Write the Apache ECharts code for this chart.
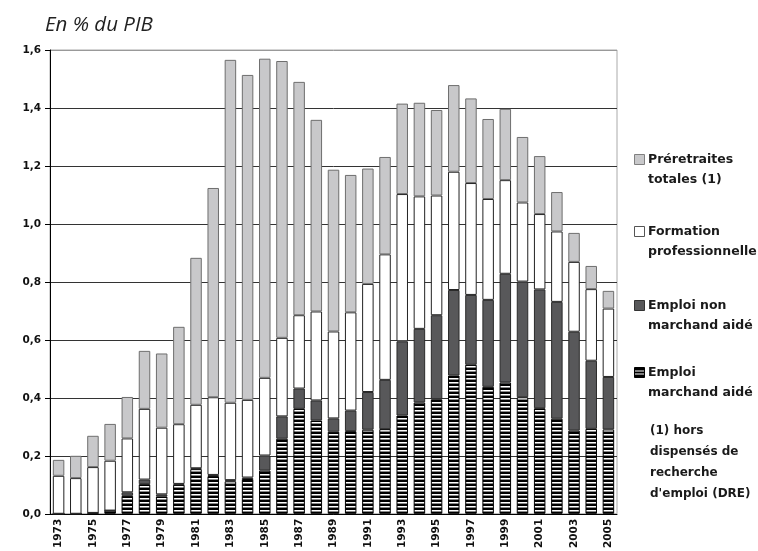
<!DOCTYPE html>
<html>
<head>
<meta charset="utf-8">
<script src="https://cdn.jsdelivr.net/npm/echarts@6/dist/echarts.min.js"></script>
<style>html,body{margin:0;padding:0;background:#fff}#c{width:758px;height:551px}</style>
</head>
<body>
<div id="c"></div>
<script>
var years = ['1973','1974','1975','1976','1977','1978','1979','1980','1981','1982','1983','1984','1985','1986','1987','1988','1989','1990','1991','1992','1993','1994','1995','1996','1997','1998','1999','2000','2001','2002','2003','2004','2005'];
var emploiMarchand = [0,0,0.003,0.011,0.062,0.102,0.06,0.1,0.154,0.13,0.112,0.12,0.149,0.259,0.362,0.322,0.283,0.285,0.29,0.292,0.339,0.384,0.395,0.477,0.514,0.438,0.453,0.402,0.364,0.328,0.287,0.293,0.291];
var emploiNonMarchand = [0,0,0,0,0.012,0.016,0.007,0.003,0.003,0.004,0.004,0.005,0.052,0.077,0.07,0.069,0.046,0.071,0.13,0.17,0.256,0.254,0.29,0.295,0.241,0.3,0.375,0.399,0.41,0.403,0.341,0.235,0.181];
var formation = [0.131,0.123,0.158,0.172,0.186,0.244,0.23,0.206,0.219,0.268,0.267,0.268,0.268,0.271,0.253,0.307,0.3,0.339,0.373,0.433,0.508,0.457,0.413,0.408,0.386,0.348,0.323,0.273,0.26,0.243,0.241,0.247,0.236];
var preretraites = [0.055,0.077,0.108,0.127,0.143,0.2,0.256,0.336,0.507,0.722,1.183,1.121,1.101,0.955,0.805,0.661,0.558,0.474,0.398,0.336,0.312,0.323,0.295,0.299,0.292,0.276,0.246,0.226,0.2,0.136,0.1,0.08,0.061];
var yTicks = [0,0.2,0.4,0.6,0.8,1.0,1.2,1.4,1.6];
var seriesNames = ['Emploi\nmarchand aidé','Emploi non\nmarchand aidé','Formation\nprofessionnelle','Préretraites\ntotales (1)'];
var noteText = '(1) hors\ndispensés de\nrecherche\nd\'emploi (DRE)';

// stripe pattern for "Emploi marchand aidé"
var pc = document.createElement('canvas');
pc.width = 4; pc.height = 4;
var pctx = pc.getContext('2d');
pctx.fillStyle = '#000'; pctx.fillRect(0,0,4,2);
pctx.fillStyle = '#fff'; pctx.fillRect(0,2,4,1);
pctx.fillStyle = '#8a8a8a'; pctx.fillRect(0,3,4,1);
var stripe = {image: pc, repeat: 'repeat'};

var chart = echarts.init(document.getElementById('c'), null, {renderer: 'canvas'});
var bw = 11.5;
var lblFont = 'DejaVu Sans';
function legendItem(y, fill, stroke, text, striped) {
  var els = [];
  els.push({type: 'rect', shape: {x: 634.5, y: y - 5.5, width: 10, height: 10}, style: {fill: fill, stroke: stroke, lineWidth: 1}});
  if (striped) {
    els.push({type: 'rect', shape: {x: 635, y: y - 2.5, width: 9, height: 1}, style: {fill: '#fff'}});
    els.push({type: 'rect', shape: {x: 635, y: y + 0.5, width: 9, height: 1}, style: {fill: '#fff'}});
  }
  els.push({type: 'text', x: 648, y: y - 10, style: {text: text, font: 'bold 12.5px "' + lblFont + '"', fill: '#1a1a1a', lineHeight: 20, textVerticalAlign: 'top'}});
  return els;
}
var graphics = [].concat(
  legendItem(160, '#c8c8ca', '#808080', seriesNames[3]),
  legendItem(232, '#ffffff', '#555', seriesNames[2]),
  legendItem(306, '#58585a', '#333', seriesNames[1]),
  legendItem(373, '#000', '#000', seriesNames[0], true),
  [{type: 'text', x: 650, y: 420, style: {text: noteText, font: 'bold 12px "' + lblFont + '"', fill: '#1a1a1a', lineHeight: 21, textVerticalAlign: 'top'}},
   {type: 'text', x: 45, y: 15, style: {text: 'En % du PIB', font: 'italic 20.5px "Open Sans"', fill: '#222', textVerticalAlign: 'top'}}]
);

chart.setOption({
  animation: false,
  backgroundColor: '#fff',
  grid: {left: 50, right: 141, top: 50, bottom: 37, show: true, borderColor: '#aaa', borderWidth: 1, backgroundColor: 'transparent'},
  xAxis: {
    type: 'category', data: years, boundaryGap: true,
    axisLine: {lineStyle: {color: '#000', width: 1}},
    axisTick: {interval: 0, length: 5, lineStyle: {color: '#000'}},
    axisLabel: {interval: 1, rotate: 90, margin: 5, color: '#111', fontFamily: lblFont, fontWeight: 'bold', fontSize: 10.5}
  },
  yAxis: {
    type: 'value', min: 0, max: 1.6, interval: 0.2,
    axisLine: {show: true, lineStyle: {color: '#000', width: 1}},
    axisTick: {show: true, length: 5, lineStyle: {color: '#000'}},
    axisLabel: {margin: 9, color: '#111', fontFamily: lblFont, fontWeight: 'bold', fontSize: 10.5,
      formatter: function (v) { return v.toFixed(1).replace('.', ','); }},
    splitLine: {lineStyle: {color: ['#333','#333','#333','#333','#333','#333','#333','#333','#999'], width: 1}}
  },
  graphic: graphics,
  series: [
    {name: seriesNames[0], type: 'bar', stack: 't', barWidth: bw, data: emploiMarchand,
      itemStyle: {color: stripe, borderColor: '#000', borderWidth: 1}},
    {name: seriesNames[1], type: 'bar', stack: 't', barWidth: bw, data: emploiNonMarchand,
      itemStyle: {color: '#58585a', borderColor: '#2a2a2a', borderWidth: 1}},
    {name: seriesNames[2], type: 'bar', stack: 't', barWidth: bw, data: formation,
      itemStyle: {color: '#ffffff', borderColor: '#222', borderWidth: 1}},
    {name: seriesNames[3], type: 'bar', stack: 't', barWidth: bw, data: preretraites,
      itemStyle: {color: '#c8c8ca', borderColor: '#6e6e6e', borderWidth: 1}}
  ]
});
</script>
</body>
</html>
